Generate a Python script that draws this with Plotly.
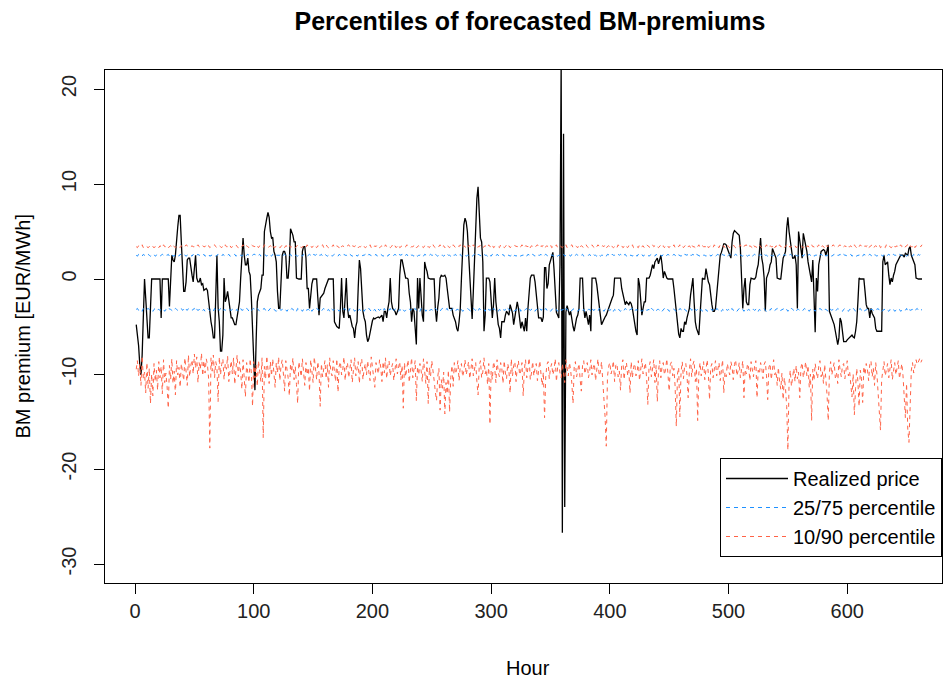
import plotly.graph_objects as go

# Realized BM premium (EUR/MWh), hourly
realized = [
-4.8,-6.0,-7.0,-9.0,-10.1,-8.0,-3.0,0,-2.0,-4.0,-6.2,-6.2,-2.0,0,0,0,0,0,0,0,
0,-4.1,0,0,0,0,0,0,-2.9,1.0,2.5,2.0,1.8,2.5,4.3,5.5,6.7,6.7,3.9,0.8,
-1.3,-1.3,-0.3,2.0,2.2,2.2,1.1,0.4,-0.3,1.0,2.5,0.1,-0.3,-0.3,0.1,-0.6,-0.5,-1.2,-1.1,-1.0,
-1.2,-2.4,-3.4,-4.5,-5.2,-6.2,-6.2,-1.5,2.5,-3.0,-4.5,-7.6,-7.6,-5.9,0.1,-2.4,-2.0,-1.3,-2.4,-3.0,
-4.1,-4.1,-4.5,-4.8,-4.8,-4.1,-3.0,-2.4,0.1,2.5,4.3,2.5,1.5,1.5,2.2,0.8,0.4,-2.0,-5.9,-9.0,
-11.7,-6.6,-2.4,-1.7,-1.3,-1.0,0.4,0.4,5.0,6.0,6.4,7.0,6.5,5.0,4.3,4.4,2.9,2.5,1.8,-1.3,
-3.1,-3.1,0.4,2.5,2.9,2.9,2.5,0.1,0.1,1.8,5.3,5.0,4.6,3.9,3.9,0.1,0,0,0,0,
2.9,3.4,3.4,2.2,-1.0,-1.0,-3.1,-1.7,-0.5,0,0,0,0,-2.0,-3.8,-2.0,-1.8,-1.7,-1.5,-1.0,
-0.6,-0.3,0,0,0,0,0,-4.5,-4.8,-5.0,-5.1,-5.2,-3.1,0.1,-3.4,-4.1,-2.0,0.1,-3.0,-4.1,
-3.8,-4.5,-5.0,-5.2,-6.2,-5.0,-4.5,-1.0,2.0,1.1,-1.7,-3.4,-4.1,-4.5,-5.9,-6.6,-6.3,-5.5,-4.8,-4.4,
-4.1,-4.2,-4.1,-4.0,-4.0,-4.1,-3.9,-3.8,-4.5,-3.4,-3.4,-4.1,-3.1,-2.4,0.1,-2.4,-3.1,-3.2,-3.4,-3.8,
-3.4,-3.1,0.4,2.0,2.0,1.2,0.4,0.1,0.1,0,-1.5,-2.4,-4.5,-3.1,-3.4,-5.5,-6.9,0.1,-3.1,0.1,
-2.5,-3.8,-4.5,1.8,1.2,0.8,0.1,0,0,0,0,0,-3.1,-4.5,-3.0,-2.0,0.1,0.4,0.3,0.3,
0.4,0.1,-1.0,-2.4,-3.1,-3.1,-3.1,-3.8,-4.1,-4.5,-5.2,-5.5,-4.5,-3.1,0.1,2.5,5.7,6.4,6.0,5.0,
2.5,-0.6,-2.4,-4.2,-1.3,2.0,5.7,8.5,9.7,6.0,4.3,3.9,1.8,-5.5,-3.8,0.1,0.1,0.1,-0.3,-2.7,
-4.1,-2.7,0.1,-2.4,-4.1,-4.8,-5.2,-6.2,-4.5,-4.5,-4.5,-3.8,-3.4,-3.6,-3.8,-2.7,-3.1,-3.6,-4.8,-3.8,
-3.1,-2.4,-3.1,-4.5,-5.2,-4.5,-5.0,-5.5,-4.1,-5.5,-3.1,-1.5,0.1,0.4,0.4,0.4,-0.3,-1.5,-2.4,-4.1,
-4.1,-4.1,-4.5,-4.0,1.2,1.2,-1.0,-0.5,1.5,2.0,2.5,2.8,1.0,-1.3,-3.5,-3.8,-4.1,1.5,23,-26.7,
15.3,-24.0,-3.5,-2.8,-3.3,-3.8,-3.4,-4.5,-5.0,-5.5,-4.5,-4.1,-3.8,-3.1,0.1,0.1,0.1,-3.1,-4.1,-3.4,
-4.1,-4.8,-3.8,-5.5,0.1,0.1,0.1,0.1,-0.6,-1.5,-2.4,-3.8,-4.8,-4.5,-4.1,-4.0,-3.8,-3.4,-3.0,-2.7,
-2.4,-2.0,-1.7,0.1,0.1,0.1,0.1,0.1,0.1,-1.0,-1.7,-2.4,-2.7,-2.4,-2.6,-2.7,-2.4,-2.6,-3.1,-4.1,
-5.0,-5.5,-5.9,0.1,-0.6,-2.5,-3.8,-3.1,-2.4,-2.4,0.1,0.1,0.1,0.4,1.0,1.5,1.1,1.8,2.0,2.2,
1.6,2.0,2.5,1.5,0.1,0.8,0.4,0.1,0,0,0,0,0,-1.0,-2.4,-3.5,-4.5,-5.8,-6.2,-5.2,
-5.5,-5.5,-4.5,-4.8,-4.1,-3.5,-3.1,-1.7,-0.5,0.1,-2.4,-4.5,-5.2,-5.5,-5.9,-3.8,-1.0,0.1,0,0,
1.1,0.1,-0.3,-0.6,-2.0,-2.7,-3.4,-3.4,-3.1,-1.5,-0.6,1.8,2.5,2.8,3.2,3.7,3.7,3.6,3.2,2.9,
2.5,2.2,3.9,4.8,5.1,5.0,4.8,4.8,4.6,3.2,-0.6,-3.1,-1.0,0.1,-2.4,-2.7,-2.7,-0.6,0.1,0,
0,0,0.2,1.0,1.5,2.9,4.3,2.2,1.5,0.1,-3.4,0.1,0.4,0.8,1.5,1.8,3.2,2.9,2.5,2.2,
0.1,0,0,0,1.5,2.2,2.5,2.9,5.3,6.5,5.0,3.9,2.9,2.2,2.2,2.5,1.5,-3.1,5.0,3.9,
3.0,2.2,4.8,4.2,3.6,2.9,1.8,1.0,0.1,-0.3,2.0,-1.0,-5.6,0.1,-1.3,1.5,2.2,2.9,3.0,3.1,
3.0,2.5,3.0,3.6,-3.4,-3.8,-4.1,-4.5,-4.8,-5.5,-6.2,-6.9,-6.2,-4.1,-4.5,-5.5,-6.6,-6.6,-6.6,-6.4,
-6.3,-6.2,-6.0,-5.9,-6.1,-6.2,-5.5,-4.5,-2.4,0.1,0,0,0,0,-1.3,-2.7,-3.1,-3.1,-4.1,-3.1,
-3.6,-3.8,-4.1,-5.2,-5.5,-5.5,-5.5,-5.5,-5.5,1.8,2.5,1.5,1.6,1.8,0.4,-0.6,0.1,-0.3,0.4,0.8,
1.5,1.8,2.0,2.2,2.5,2.5,2.5,2.3,2.7,2.6,2.5,3.2,3.4,2.5,2.2,1.8,1.5,0.1,0,0,
0,0,0,
]

# 90th percentile of forecasts
q90 = [
3.4,3.3,3.5,3.4,3.4,3.6,3.3,3.4,3.5,3.4,3.3,3.4,3.5,3.6,3.4,3.3,3.4,3.4,3.5,3.3,
3.5,3.4,3.3,3.6,3.4,3.4,3.5,3.3,3.4,3.5,3.4,3.6,3.4,3.3,3.4,3.5,3.4,3.3,3.5,3.4,
3.3,3.4,3.6,3.5,3.4,3.3,3.4,3.5,3.4,3.4,3.3,3.5,3.6,3.4,3.3,3.4,3.5,3.4,3.4,3.6,
3.4,3.5,3.3,3.4,3.4,3.5,3.6,3.4,3.3,3.4,3.5,3.4,3.3,3.5,3.4,3.6,3.4,3.4,3.3,3.5,
3.3,3.4,3.4,3.5,3.6,3.4,3.3,3.5,3.4,3.4,3.6,3.3,3.4,3.5,3.4,3.3,3.4,3.6,3.5,3.4,
3.4,3.6,3.4,3.3,3.5,3.4,3.4,3.3,3.6,3.5,3.4,3.3,3.4,3.5,3.4,3.6,3.3,3.4,3.4,3.5,
3.5,3.3,3.4,3.6,3.4,3.3,3.5,3.4,3.4,3.6,3.3,3.4,3.5,3.4,3.3,3.4,3.6,3.5,3.4,3.3,
3.4,3.4,3.5,3.3,3.6,3.4,3.4,3.5,3.3,3.4,3.6,3.4,3.3,3.5,3.4,3.4,3.5,3.6,3.3,3.4,
3.6,3.4,3.3,3.4,3.5,3.4,3.6,3.3,3.4,3.5,3.4,3.3,3.6,3.4,3.5,3.4,3.3,3.4,3.5,3.6,
3.4,3.3,3.5,3.4,3.4,3.6,3.5,3.3,3.4,3.4,3.5,3.6,3.4,3.3,3.4,3.5,3.4,3.6,3.3,3.4,
3.3,3.5,3.4,3.6,3.4,3.3,3.4,3.5,3.4,3.3,3.6,3.4,3.5,3.4,3.3,3.4,3.6,3.4,3.5,3.3,
3.4,3.6,3.3,3.4,3.5,3.4,3.3,3.4,3.6,3.5,3.4,3.3,3.4,3.4,3.5,3.6,3.3,3.4,3.5,3.4,
3.5,3.4,3.3,3.5,3.6,3.4,3.4,3.3,3.5,3.4,3.6,3.4,3.3,3.4,3.5,3.4,3.6,3.3,3.4,3.5,
3.3,3.4,3.6,3.4,3.3,3.5,3.4,3.6,3.4,3.3,3.4,3.5,3.4,3.6,3.3,3.4,3.5,3.4,3.3,3.6,
3.4,3.5,3.4,3.3,3.6,3.4,3.5,3.3,3.4,3.4,3.6,3.5,3.3,3.4,3.5,3.4,3.3,3.6,3.4,3.4,
3.6,3.3,3.4,3.5,3.4,3.4,3.3,3.6,3.5,3.4,3.3,3.4,3.6,3.4,3.5,3.3,3.4,3.4,3.6,3.5,
3.4,3.4,3.5,3.3,3.4,3.6,3.4,3.3,3.5,3.4,3.4,3.6,3.3,3.5,3.4,3.4,3.3,3.5,3.6,3.4,
3.3,3.5,3.4,3.6,3.3,3.4,3.5,3.4,3.4,3.6,3.3,3.4,3.5,3.4,3.6,3.3,3.4,3.5,3.4,3.3,
3.5,3.4,3.6,3.3,3.4,3.4,3.5,3.6,3.3,3.4,3.5,3.4,3.3,3.6,3.4,3.5,3.4,3.3,3.4,3.6,
3.4,3.3,3.4,3.5,3.6,3.4,3.3,3.5,3.4,3.6,3.4,3.3,3.4,3.5,3.4,3.6,3.3,3.4,3.5,3.4,
3.6,3.4,3.3,3.4,3.5,3.3,3.6,3.4,3.4,3.5,3.3,3.4,3.6,3.4,3.3,3.5,3.4,3.4,3.6,3.3,
3.4,3.5,3.4,3.3,3.6,3.4,3.4,3.5,3.3,3.4,3.6,3.5,3.4,3.3,3.4,3.6,3.4,3.5,3.3,3.4,
3.3,3.4,3.6,3.4,3.5,3.3,3.4,3.6,3.4,3.3,3.5,3.4,3.4,3.6,3.3,3.4,3.5,3.4,3.6,3.4,
3.5,3.3,3.4,3.6,3.4,3.4,3.5,3.3,3.6,3.4,3.4,3.3,3.5,3.4,3.6,3.3,3.4,3.5,3.4,3.4,
3.4,3.6,3.3,3.4,3.5,3.4,3.3,3.6,3.4,3.5,3.4,3.3,3.6,3.4,3.4,3.5,3.3,3.4,3.6,3.4,
3.3,3.4,3.5,3.6,3.4,3.3,3.4,3.5,3.4,3.6,3.3,3.4,3.4,3.5,3.6,3.3,3.4,3.5,3.4,3.3,
3.6,3.4,3.4,3.3,3.5,3.6,3.4,3.3,3.4,3.5,3.4,3.6,3.3,3.4,3.5,3.4,3.4,3.6,3.3,3.5,
3.4,3.3,3.6,3.4,3.4,3.5,3.3,3.4,3.6,3.4,3.5,3.3,3.4,3.4,3.6,3.5,3.3,3.4,3.4,3.5,
3.5,3.4,3.3,3.4,3.6,3.4,3.5,3.3,3.4,3.6,3.4,3.4,3.3,3.5,3.4,3.6,3.4,3.3,3.5,3.4,
3.3,3.6,3.4,3.5,3.4,3.3,3.4,3.6,3.5,3.4,3.3,3.4,3.5,3.6,3.4,3.3,3.4,3.5,3.4,3.6,
3.4,3.4,3.5,3.3,3.4,3.6,3.4,3.3,3.5,3.4,3.6,3.4,3.3,3.4,3.5,3.4,3.6,3.3,3.4,3.5,
3.6,3.3,3.4,3.5,3.4,3.4,3.6,3.3,3.4,3.5,3.4,3.3,3.6,3.4,3.5,3.4,3.3,3.4,3.6,3.4,
3.4,3.5,3.3,3.4,3.6,3.4,3.5,3.3,3.4,3.4,3.6,3.3,3.5,3.4,3.4,3.6,3.3,3.5,3.4,3.4,
3.5,3.4,3.6,
]

# 75th percentile of forecasts
q75 = [
2.5,2.4,2.6,2.5,2.5,2.4,2.6,2.5,2.4,2.5,2.6,2.5,2.4,2.5,2.5,2.6,2.4,2.5,2.6,2.5,
2.4,2.5,2.6,2.5,2.4,2.5,2.5,2.6,2.4,2.5,2.6,2.4,2.5,2.5,2.6,2.5,2.4,2.6,2.5,2.5,
2.6,2.5,2.4,2.5,2.6,2.5,2.5,2.4,2.6,2.5,2.4,2.5,2.6,2.5,2.5,2.4,2.5,2.6,2.4,2.5,
2.5,2.6,2.4,2.5,2.5,2.6,2.5,2.4,2.5,2.6,2.5,2.5,2.4,2.6,2.5,2.4,2.5,2.5,2.6,2.4,
2.4,2.5,2.5,2.6,2.4,2.5,2.6,2.5,2.5,2.4,2.6,2.5,2.4,2.5,2.6,2.5,2.4,2.5,2.5,2.6,
2.6,2.4,2.5,2.5,2.6,2.4,2.5,2.5,2.6,2.5,2.4,2.6,2.5,2.5,2.4,2.6,2.5,2.4,2.5,2.5,
2.5,2.5,2.6,2.4,2.5,2.6,2.5,2.4,2.5,2.5,2.6,2.4,2.5,2.6,2.5,2.5,2.4,2.5,2.6,2.5,
2.4,2.6,2.5,2.5,2.4,2.5,2.6,2.5,2.4,2.6,2.5,2.5,2.6,2.4,2.5,2.5,2.6,2.4,2.5,2.6,
2.5,2.4,2.5,2.6,2.5,2.4,2.5,2.6,2.5,2.5,2.4,2.6,2.5,2.4,2.5,2.6,2.5,2.5,2.4,2.6,
2.6,2.5,2.4,2.5,2.5,2.6,2.4,2.5,2.6,2.5,2.4,2.5,2.5,2.6,2.5,2.4,2.6,2.5,2.5,2.4,
2.5,2.5,2.6,2.4,2.5,2.5,2.6,2.5,2.4,2.5,2.6,2.5,2.4,2.6,2.5,2.5,2.4,2.5,2.6,2.5,
2.4,2.6,2.5,2.5,2.6,2.4,2.5,2.5,2.6,2.4,2.5,2.6,2.5,2.5,2.4,2.6,2.5,2.4,2.5,2.5,
2.6,2.5,2.4,2.6,2.5,2.5,2.4,2.5,2.6,2.5,2.5,2.4,2.6,2.5,2.4,2.5,2.6,2.5,2.5,2.4,
2.5,2.4,2.6,2.5,2.5,2.4,2.6,2.5,2.5,2.6,2.4,2.5,2.5,2.6,2.4,2.5,2.6,2.5,2.4,2.5,
2.5,2.6,2.5,2.4,2.5,2.6,2.5,2.4,2.6,2.5,2.5,2.4,2.5,2.6,2.5,2.5,2.4,2.6,2.5,2.4,
2.6,2.5,2.5,2.4,2.6,2.5,2.4,2.5,2.5,2.6,2.4,2.5,2.6,2.5,2.5,2.4,2.5,2.6,2.4,2.5,
2.4,2.5,2.6,2.5,2.4,2.5,2.5,2.6,2.5,2.4,2.6,2.5,2.5,2.4,2.6,2.5,2.4,2.5,2.6,2.5,
2.5,2.6,2.4,2.5,2.5,2.6,2.5,2.4,2.5,2.6,2.5,2.5,2.4,2.6,2.5,2.4,2.5,2.5,2.6,2.5,
2.6,2.4,2.5,2.6,2.5,2.5,2.4,2.6,2.5,2.4,2.5,2.6,2.5,2.5,2.4,2.5,2.6,2.4,2.5,2.5,
2.5,2.5,2.6,2.4,2.5,2.6,2.5,2.5,2.4,2.6,2.5,2.4,2.5,2.5,2.6,2.5,2.4,2.6,2.5,2.5,
2.4,2.6,2.5,2.5,2.4,2.5,2.6,2.5,2.6,2.4,2.5,2.5,2.6,2.4,2.5,2.6,2.5,2.5,2.4,2.6,
2.5,2.5,2.4,2.6,2.5,2.5,2.6,2.4,2.5,2.5,2.6,2.5,2.4,2.5,2.6,2.5,2.5,2.4,2.6,2.5,
2.6,2.5,2.5,2.4,2.6,2.5,2.4,2.5,2.6,2.5,2.5,2.4,2.5,2.6,2.5,2.4,2.6,2.5,2.5,2.4,
2.5,2.4,2.6,2.5,2.5,2.6,2.4,2.5,2.5,2.6,2.5,2.4,2.6,2.5,2.5,2.4,2.5,2.6,2.5,2.5,
2.4,2.5,2.5,2.6,2.4,2.5,2.6,2.5,2.4,2.5,2.6,2.5,2.5,2.4,2.6,2.5,2.5,2.6,2.4,2.5,
2.6,2.5,2.4,2.5,2.5,2.6,2.5,2.4,2.6,2.5,2.5,2.4,2.5,2.6,2.5,2.4,2.5,2.5,2.6,2.4,
2.5,2.6,2.5,2.4,2.5,2.5,2.6,2.4,2.5,2.6,2.5,2.5,2.4,2.6,2.5,2.5,2.4,2.5,2.6,2.5,
2.4,2.5,2.6,2.5,2.5,2.4,2.6,2.5,2.5,2.4,2.5,2.6,2.5,2.4,2.6,2.5,2.5,2.4,2.5,2.6,
2.5,2.5,2.4,2.6,2.5,2.4,2.5,2.6,2.5,2.5,2.6,2.4,2.5,2.5,2.6,2.4,2.5,2.6,2.5,2.4,
2.6,2.4,2.5,2.5,2.6,2.5,2.4,2.5,2.6,2.5,2.4,2.5,2.5,2.6,2.4,2.5,2.6,2.5,2.5,2.4,
2.5,2.5,2.6,2.4,2.5,2.6,2.5,2.4,2.5,2.5,2.6,2.5,2.4,2.6,2.5,2.5,2.4,2.5,2.6,2.5,
2.4,2.6,2.5,2.5,2.4,2.5,2.6,2.5,2.5,2.4,2.6,2.5,2.4,2.5,2.6,2.5,2.5,2.4,2.6,2.5,
2.5,2.4,2.5,2.6,2.5,2.5,2.4,2.6,2.5,2.4,2.5,2.6,2.5,2.5,2.4,2.6,2.5,2.5,2.4,2.6,
2.5,2.6,2.5,
]

# 25th percentile of forecasts
q25 = [
-3.2,-3.1,-3.3,-3.2,-3.2,-3.4,-3.1,-3.2,-3.3,-3.2,-3.1,-3.2,-3.3,-3.2,-3.4,-3.2,-3.1,-3.3,-3.2,-3.2,
-3.3,-3.2,-3.1,-3.2,-3.4,-3.2,-3.3,-3.1,-3.2,-3.2,-3.3,-3.4,-3.2,-3.1,-3.2,-3.3,-3.2,-3.2,-3.1,-3.3,
-3.2,-3.4,-3.2,-3.3,-3.1,-3.2,-3.2,-3.3,-3.2,-3.1,-3.4,-3.2,-3.3,-3.2,-3.2,-3.1,-3.3,-3.2,-3.4,-3.2,
-3.1,-3.2,-3.3,-3.2,-3.2,-3.4,-3.1,-3.3,-3.2,-3.2,-3.3,-3.1,-3.2,-3.4,-3.2,-3.3,-3.2,-3.1,-3.2,-3.3,
-3.3,-3.2,-3.2,-3.1,-3.3,-3.2,-3.4,-3.2,-3.1,-3.3,-3.2,-3.2,-3.3,-3.1,-3.2,-3.4,-3.2,-3.3,-3.2,-3.1,
-3.2,-3.3,-3.1,-3.2,-3.4,-3.3,-3.2,-3.2,-3.1,-3.3,-3.2,-3.4,-3.2,-3.1,-3.3,-3.2,-3.2,-3.3,-3.4,-3.2,
-3.1,-3.2,-3.3,-3.2,-3.2,-3.1,-3.3,-3.4,-3.2,-3.2,-3.3,-3.1,-3.2,-3.3,-3.2,-3.4,-3.1,-3.2,-3.3,-3.2,
-3.4,-3.2,-3.1,-3.3,-3.2,-3.2,-3.3,-3.1,-3.4,-3.2,-3.2,-3.3,-3.1,-3.2,-3.3,-3.2,-3.4,-3.2,-3.1,-3.3,
-3.2,-3.3,-3.2,-3.4,-3.1,-3.2,-3.3,-3.2,-3.2,-3.1,-3.3,-3.4,-3.2,-3.2,-3.3,-3.1,-3.2,-3.3,-3.2,-3.4,
-3.1,-3.3,-3.2,-3.2,-3.4,-3.2,-3.1,-3.3,-3.2,-3.3,-3.2,-3.1,-3.4,-3.2,-3.2,-3.3,-3.1,-3.2,-3.4,-3.2,
-3.3,-3.2,-3.4,-3.1,-3.2,-3.3,-3.2,-3.2,-3.4,-3.1,-3.3,-3.2,-3.2,-3.3,-3.1,-3.4,-3.2,-3.3,-3.2,-3.1,
-3.2,-3.4,-3.2,-3.3,-3.1,-3.2,-3.4,-3.3,-3.2,-3.2,-3.1,-3.3,-3.2,-3.4,-3.2,-3.1,-3.3,-3.2,-3.2,-3.4,
-3.1,-3.2,-3.3,-3.2,-3.4,-3.2,-3.1,-3.3,-3.2,-3.2,-3.4,-3.3,-3.1,-3.2,-3.3,-3.2,-3.4,-3.2,-3.1,-3.3,
-3.3,-3.2,-3.1,-3.4,-3.2,-3.3,-3.2,-3.1,-3.3,-3.4,-3.2,-3.2,-3.3,-3.1,-3.2,-3.4,-3.3,-3.2,-3.2,-3.1,
-3.2,-3.3,-3.4,-3.2,-3.1,-3.2,-3.3,-3.2,-3.4,-3.1,-3.2,-3.3,-3.2,-3.2,-3.4,-3.1,-3.3,-3.2,-3.3,-3.2,
-3.4,-3.1,-3.2,-3.3,-3.2,-3.4,-3.2,-3.3,-3.1,-3.2,-3.3,-3.2,-3.4,-3.1,-3.2,-3.3,-3.2,-3.2,-3.4,-3.3,
-3.2,-3.2,-3.3,-3.1,-3.4,-3.2,-3.2,-3.3,-3.2,-3.1,-3.4,-3.2,-3.3,-3.2,-3.1,-3.3,-3.4,-3.2,-3.2,-3.3,
-3.1,-3.3,-3.2,-3.4,-3.2,-3.1,-3.3,-3.2,-3.2,-3.4,-3.3,-3.1,-3.2,-3.3,-3.2,-3.4,-3.2,-3.1,-3.3,-3.2,
-3.2,-3.4,-3.1,-3.2,-3.3,-3.2,-3.4,-3.3,-3.2,-3.1,-3.2,-3.3,-3.4,-3.2,-3.2,-3.1,-3.3,-3.2,-3.4,-3.2,
-3.3,-3.2,-3.2,-3.4,-3.1,-3.3,-3.2,-3.2,-3.3,-3.4,-3.1,-3.2,-3.3,-3.2,-3.4,-3.2,-3.1,-3.3,-3.2,-3.3,
-3.2,-3.1,-3.4,-3.2,-3.3,-3.2,-3.1,-3.3,-3.4,-3.2,-3.2,-3.3,-3.1,-3.2,-3.4,-3.3,-3.2,-3.2,-3.1,-3.3,
-3.4,-3.2,-3.3,-3.1,-3.2,-3.2,-3.4,-3.3,-3.2,-3.1,-3.3,-3.2,-3.2,-3.4,-3.1,-3.2,-3.3,-3.2,-3.4,-3.2,
-3.2,-3.3,-3.2,-3.4,-3.2,-3.1,-3.3,-3.2,-3.2,-3.4,-3.3,-3.2,-3.1,-3.2,-3.3,-3.4,-3.2,-3.3,-3.1,-3.2,
-3.3,-3.1,-3.2,-3.3,-3.4,-3.2,-3.2,-3.1,-3.3,-3.2,-3.4,-3.2,-3.3,-3.2,-3.1,-3.3,-3.2,-3.4,-3.2,-3.3,
-3.2,-3.4,-3.3,-3.2,-3.1,-3.3,-3.2,-3.2,-3.4,-3.1,-3.2,-3.3,-3.2,-3.4,-3.2,-3.3,-3.1,-3.2,-3.3,-3.2,
-3.4,-3.2,-3.1,-3.3,-3.2,-3.2,-3.4,-3.3,-3.1,-3.2,-3.3,-3.2,-3.4,-3.2,-3.1,-3.3,-3.2,-3.3,-3.4,-3.2,
-3.2,-3.3,-3.2,-3.1,-3.4,-3.2,-3.3,-3.2,-3.2,-3.1,-3.3,-3.4,-3.2,-3.2,-3.3,-3.1,-3.2,-3.4,-3.3,-3.2,
-3.1,-3.2,-3.4,-3.3,-3.2,-3.2,-3.1,-3.3,-3.2,-3.4,-3.2,-3.3,-3.1,-3.2,-3.3,-3.2,-3.4,-3.2,-3.2,-3.3,
-3.3,-3.4,-3.2,-3.1,-3.2,-3.3,-3.2,-3.4,-3.2,-3.2,-3.1,-3.3,-3.4,-3.2,-3.3,-3.2,-3.1,-3.2,-3.3,-3.4,
-3.2,-3.2,-3.3,-3.4,-3.1,-3.2,-3.3,-3.2,-3.2,-3.4,-3.3,-3.1,-3.2,-3.2,-3.3,-3.4,-3.2,-3.1,-3.2,-3.3,
-3.4,-3.2,-3.2,-3.3,-3.1,-3.2,-3.4,-3.3,-3.2,-3.2,-3.1,-3.3,-3.2,-3.4,-3.3,-3.2,-3.2,-3.1,-3.3,-3.2,
-3.2,-3.3,-3.4,-3.2,-3.2,-3.1,-3.3,-3.2,-3.4,-3.3,-3.2,-3.2,-3.1,-3.3,-3.4,-3.2,-3.3,-3.2,-3.2,-3.4,
-3.3,-3.2,-3.1,-3.2,-3.4,-3.3,-3.2,-3.2,-3.3,-3.1,-3.4,-3.2,-3.3,-3.2,-3.2,-3.4,-3.3,-3.2,-3.1,-3.3,
-3.2,-3.3,-3.2,
]

# 10th percentile of forecasts
q10 = [
-9.5,-8.6,-10.2,-9.0,-11.2,-8.1,-10.5,-9.8,-12.0,-8.8,-11.5,-9.4,-13.1,-10.0,-12.3,-8.9,-10.8,-9.6,-11.7,-8.7,
-10.4,-9.2,-12.1,-8.5,-10.9,-9.9,-11.3,-13.6,-9.1,-10.6,-8.4,-11.0,-9.7,-12.2,-8.6,-10.1,-9.3,-11.4,-8.9,-9.8,
-10.7,-8.3,-9.6,-11.2,-8.0,-10.3,-9.1,-8.5,-10.0,-7.9,-9.4,-8.2,-10.9,-8.8,-9.5,-7.8,-10.2,-8.6,-9.9,-8.4,
-9.0,-10.5,-17.8,-8.3,-9.7,-8.0,-10.4,-8.7,-9.3,-12.9,-8.2,-10.1,-9.0,-8.4,-10.6,-8.9,-9.5,-8.1,-10.8,-9.2,
-8.6,-10.0,-8.3,-11.1,-9.4,-8.0,-10.3,-8.7,-9.8,-11.6,-8.5,-10.2,-12.4,-8.8,-9.6,-10.9,-8.4,-9.9,-13.4,-8.7,
-10.4,-9.0,-11.3,-8.6,-9.7,-10.8,-8.3,-16.7,-9.2,-10.5,-8.1,-9.4,-11.0,-8.7,-10.2,-8.4,-9.6,-11.4,-8.8,-9.9,
-8.2,-10.7,-9.1,-8.5,-10.0,-11.8,-8.6,-9.5,-10.4,-12.3,-8.9,-9.8,-8.3,-10.6,-9.2,-11.1,-13.1,-8.7,-9.6,-10.3,
-8.4,-9.9,-11.2,-8.8,-10.1,-9.3,-11.8,-8.5,-9.7,-10.9,-8.2,-9.4,-10.6,-8.7,-9.9,-13.4,-8.9,-10.3,-9.1,-8.6,
-10.5,-9.0,-11.4,-8.3,-9.8,-10.2,-8.6,-9.5,-10.8,-8.4,-11.9,-9.2,-8.7,-10.1,-9.6,-8.2,-10.7,-9.3,-8.8,-10.4,
-9.1,-8.5,-10.9,-9.7,-8.3,-10.2,-9.4,-8.7,-11.0,-9.0,-8.4,-10.6,-9.5,-8.9,-10.1,-8.6,-9.8,-10.7,-8.2,-9.4,
-10.3,-11.4,-8.8,-9.6,-10.0,-8.5,-9.3,-10.8,-8.7,-9.9,-8.3,-10.5,-9.1,-8.6,-10.2,-9.4,-8.9,-10.7,-9.2,-8.4,
-10.0,-9.5,-8.7,-10.6,-9.1,-13.6,-8.8,-10.3,-9.4,-8.5,-10.9,-9.0,-8.3,-10.4,-9.7,-8.6,-12.8,-9.2,-10.1,-8.9,
-9.6,-10.8,-8.4,-9.9,-11.0,-8.7,-13.1,-9.3,-10.2,-8.6,-9.5,-10.7,-11.9,-12.8,-10.3,-9.4,-13.8,-10.6,-11.5,-9.8,
-14.2,-10.9,-12.1,-9.6,-14.0,-10.4,-9.1,-11.3,-8.8,-10.0,-9.5,-8.6,-10.7,-9.2,-8.9,-10.3,-9.7,-8.5,-10.1,-9.4,
-8.7,-10.5,-9.0,-8.4,-10.2,-9.6,-8.8,-10.8,-12.2,-9.1,-8.6,-10.4,-9.8,-8.3,-10.0,-9.5,-11.1,-8.9,-15.3,-9.7,
-10.6,-8.7,-9.3,-10.9,-8.5,-9.8,-10.3,-8.8,-9.4,-11.0,-8.6,-9.9,-10.5,-8.9,-9.6,-12.0,-8.4,-10.2,-9.1,-8.7,
-10.8,-9.3,-8.6,-10.1,-9.7,-8.8,-12.3,-9.5,-8.5,-10.4,-9.0,-8.3,-10.6,-9.9,-8.7,-10.2,-9.4,-8.9,-10.7,-9.2,
-8.6,-10.0,-11.2,-9.8,-14.6,-10.3,-9.0,-8.7,-10.5,-9.4,-8.9,-10.1,-9.6,-8.4,-10.8,-9.3,-8.8,-9.9,-10.4,-8.9,
-9.7,-10.9,-8.5,-9.4,-10.2,-8.8,-9.6,-11.0,-13.1,-9.2,-8.7,-10.3,-9.5,-8.9,-10.6,-11.8,-9.1,-8.6,-10.0,-9.4,
-8.8,-10.4,-9.7,-8.5,-10.1,-9.3,-8.9,-10.7,-9.6,-8.4,-10.2,-9.8,-8.7,-10.5,-11.9,-14.5,-17.6,-10.3,-9.2,-8.8,
-10.0,-9.5,-8.6,-10.8,-9.1,-8.9,-10.3,-9.7,-11.7,-9.0,-8.5,-10.6,-9.4,-8.8,-10.1,-9.6,-12.0,-8.7,-10.4,-9.3,
-8.9,-10.2,-9.8,-8.6,-10.7,-9.2,-8.4,-10.0,-9.5,-8.8,-10.5,-13.2,-9.3,-8.7,-10.3,-9.6,-8.5,-10.9,-9.1,-12.9,
-9.7,-8.6,-10.4,-9.2,-8.8,-10.1,-9.5,-8.4,-10.6,-11.8,-9.0,-8.7,-10.2,-9.4,-11.3,-15.5,-10.0,-9.3,-14.5,-9.8,
-8.7,-10.5,-9.2,-8.9,-10.1,-12.5,-9.6,-8.4,-10.3,-9.0,-8.6,-10.8,-9.4,-14.9,-9.9,-8.8,-10.2,-9.5,-8.7,-10.6,
-9.1,-8.5,-10.0,-12.7,-9.3,-8.9,-10.4,-9.7,-8.6,-10.2,-9.2,-8.8,-10.7,-9.4,-8.5,-12.0,-9.8,-10.3,-8.9,-9.6,
-10.1,-8.7,-9.3,-10.6,-9.0,-8.5,-10.2,-9.7,-8.8,-10.4,-9.2,-8.6,-12.5,-9.5,-10.0,-8.9,-9.4,-10.7,-8.7,-9.8,
-10.3,-9.1,-8.6,-12.5,-9.6,-10.0,-8.8,-9.4,-10.5,-9.0,-8.7,-10.2,-12.7,-9.3,-8.9,-10.6,-9.5,-8.5,-10.1,-9.7,
-11.2,-9.3,-10.8,-11.6,-9.9,-12.7,-10.4,-11.5,-13.4,-18.0,-10.9,-9.6,-11.3,-10.2,-9.4,-10.8,-9.1,-10.5,-9.8,-12.5,
-9.3,-8.8,-10.4,-9.6,-8.7,-10.2,-9.1,-11.4,-10.0,-14.9,-9.5,-10.7,-8.9,-9.8,-10.5,-9.2,-8.6,-10.3,-9.7,-11.0,
-9.0,-10.6,-12.2,-14.9,-9.8,-8.7,-10.1,-9.4,-8.8,-10.4,-9.9,-11.0,-8.5,-9.6,-10.3,-9.1,-8.9,-10.5,-9.3,-8.6,
-10.2,-9.7,-11.1,-12.4,-10.0,-14.3,-11.5,-9.4,-10.8,-13.4,-9.6,-10.5,-13.0,-9.2,-10.1,-8.9,-9.5,-10.7,-9.0,-8.6,
-10.3,-9.4,-11.2,-8.8,-10.0,-11.8,-13.0,-15.9,-10.6,-9.3,-8.7,-10.2,-9.5,-8.9,-10.4,-9.1,-8.5,-10.6,-9.8,-8.8,
-10.1,-9.3,-8.6,-10.5,-9.7,-8.9,-10.2,-12.3,-14.6,-11.0,-15.8,-17.2,-12.4,-9.6,-8.8,-9.9,-9.2,-8.5,-9.0,-8.7,
-8.4,-8.8,-8.5,
]

n = min(len(realized), len(q90), len(q75), len(q25), len(q10))
hours = list(range(1, n + 1))

x_ticks = [0, 100, 200, 300, 400, 500, 600]
y_ticks = [-30, -20, -10, 0, 10, 20]

BLUE = "#1E90FF"
RED = "#FF6347"
DASH = "4px,4px"

fig = go.Figure()
fig.add_trace(go.Scatter(x=hours, y=realized[:n], mode="lines", name="Realized price",
                         line=dict(color="black", width=1.3), legendrank=1))
fig.add_trace(go.Scatter(x=hours, y=q75[:n], mode="lines", name="25/75 percentile",
                         line=dict(color=BLUE, width=1, dash=DASH), legendgroup="b", legendrank=2))
fig.add_trace(go.Scatter(x=hours, y=q25[:n], mode="lines", name="25/75 percentile",
                         line=dict(color=BLUE, width=1, dash=DASH), legendgroup="b", showlegend=False))
fig.add_trace(go.Scatter(x=hours, y=q90[:n], mode="lines", name="10/90 percentile",
                         line=dict(color=RED, width=1, dash=DASH), legendgroup="r", legendrank=3))
fig.add_trace(go.Scatter(x=hours, y=q10[:n], mode="lines", name="10/90 percentile",
                         line=dict(color=RED, width=1, dash=DASH), legendgroup="r", showlegend=False))

L, R, T, B = 105, 2, 70, 97
W, H = 944, 680
ph = H - T - B
pw = W - L - R

fig.update_layout(
    width=W, height=H,
    margin=dict(l=L, r=R, t=T, b=B, pad=0),
    paper_bgcolor="white", plot_bgcolor="white",
    font=dict(family="Liberation Sans, Arial, sans-serif", size=20, color="black"),
    title=dict(text="<b>Percentiles of forecasted BM-premiums</b>",
               x=530 / W, xanchor="center", y=1 - 21 / H, yanchor="middle",
               font=dict(size=25, color="black")),
    showlegend=True,
    legend=dict(x=1, xanchor="right", y=(H - B - 557) / ph, yanchor="bottom",
                bordercolor="black", borderwidth=1, bgcolor="white",
                font=dict(size=20), tracegroupgap=0, itemwidth=62),
    xaxis=dict(range=[-25.3, -25.3 + pw / 1.187], tickvals=x_ticks, ticktext=[str(v) for v in x_ticks],
               ticks="outside", ticklen=10, tickwidth=1, tickcolor="black",
               showline=True, linecolor="black", linewidth=1, mirror=True,
               showgrid=False, zeroline=False, tickfont=dict(size=20, color="#222")),
    yaxis=dict(range=[-32, 22], tickvals=y_ticks, ticktext=[str(v) for v in y_ticks],
               tickangle=-90, ticklabelstandoff=10,
               ticks="outside", ticklen=10, tickwidth=1, tickcolor="black",
               showline=True, linecolor="black", linewidth=1, mirror=True,
               showgrid=False, zeroline=False, tickfont=dict(size=20, color="#222")),
    annotations=[
        dict(text="Hour", xref="paper", yref="paper", x=(528 - L) / pw, y=(H - B - 668) / ph,
             xanchor="center", yanchor="middle", showarrow=False, font=dict(size=20)),
        dict(text="BM premium [EUR/MWh]", xref="paper", yref="paper", x=(22 - L) / pw, y=0.5,
             xanchor="center", yanchor="middle", textangle=-90, showarrow=False, font=dict(size=20)),
    ],
)

fig.write_html("out.html")
